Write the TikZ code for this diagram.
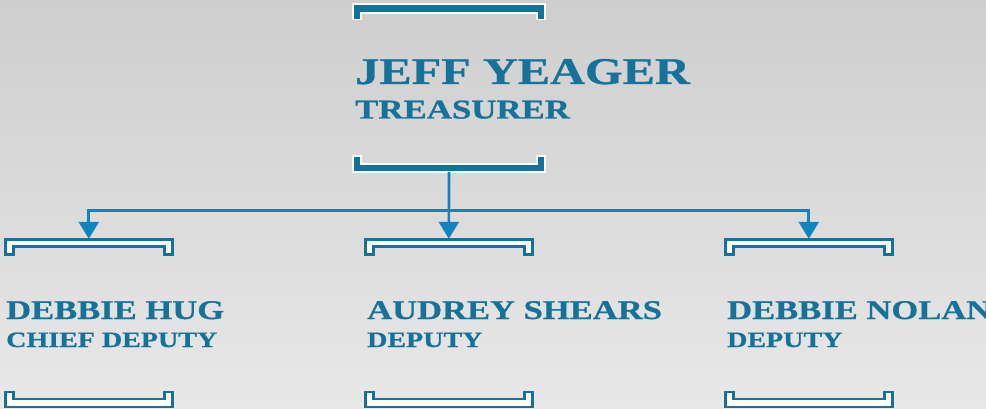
\documentclass[tikz,border=0pt]{standalone}
\usepackage{fontspec}
\newfontfamily\eng[FakeStretch=1.28,FakeBold=0.8]{Liberation Serif}
\usetikzlibrary{arrows.meta,calc}
\definecolor{bgtop}{RGB}{206,206,206}
\definecolor{bgbot}{RGB}{232,232,232}
\definecolor{ink}{RGB}{22,114,152}
\definecolor{brk}{RGB}{19,115,154}
\definecolor{conncol}{RGB}{16,132,192}
\tikzset{
  box/.style={draw=none,rectangle,inner sep=0pt},
  conn/.style={draw=conncol,line width=2.7pt},
  arr/.style={-{Triangle[width=20pt,length=17pt]}},
  topbrk/.style={fill=brk,draw=white,line width=1.8pt,line join=miter},
  kidbrk/.style={fill=white,draw=brk,line width=2.4pt,line join=miter},
  bigname/.style={anchor=base west,inner sep=0pt,text=ink,font=\eng\bfseries\fontsize{37.8}{40}\selectfont},
  toptitle/.style={anchor=base west,inner sep=0pt,text=ink,font=\eng\bfseries\fontsize{27.2}{30}\selectfont},
  kidname/.style={anchor=base west,inner sep=0pt,text=ink,font=\eng\bfseries\fontsize{27}{30}\selectfont},
  kidtitle/.style={anchor=base west,inner sep=0pt,text=ink,font=\eng\bfseries\fontsize{21.9}{24}\selectfont},
}
\begin{document}
\begin{tikzpicture}[x=1pt,y=-1pt]
\useasboundingbox (0,0) rectangle (986,409);
\shade[top color=bgtop,bottom color=bgbot] (0,0) rectangle (986,409);
% invisible frames of the boxes
\node[box,minimum width=192pt,minimum height=168pt] (top) at (449,88) {};
\node[box,minimum width=167pt,minimum height=168pt] (c1) at (88.8,323) {};
\node[box,minimum width=167pt,minimum height=168pt] (c2) at (448.8,323) {};
\node[box,minimum width=167pt,minimum height=168pt] (c3) at (808.8,323) {};
% top box brackets
\path[topbrk] (353,4) -- (545,4) -- (545,19.5) -- (537,19.5) -- (537,13) -- (361,13) -- (361,19.5) -- (353,19.5) -- cycle;
\path[topbrk] (353,156) -- (361,156) -- (361,164) -- (537,164) -- (537,156) -- (545,156) -- (545,172) -- (353,172) -- cycle;
% child brackets
\foreach \dx in {0,360,720}{
  \begin{scope}[xshift=\dx pt]
  \path[kidbrk] (5.3,239.3) -- (172.3,239.3) -- (172.3,254.3) -- (164.5,254.3) -- (164.5,246.5) -- (13.5,246.5) -- (13.5,254.3) -- (5.3,254.3) -- cycle;
  \path[kidbrk] (5.3,391.7) -- (13.5,391.7) -- (13.5,398.7) -- (164.5,398.7) -- (164.5,391.7) -- (172.3,391.7) -- (172.3,407) -- (5.3,407) -- cycle;
  \end{scope}
}
% texts
\node[bigname] (n0) at (355,84) {JEFF YEAGER};
\node[toptitle] (t0) at (355,118.5) {TREASURER};
\node[kidname] (n1) at (6,319) {DEBBIE HUG};
\node[kidtitle] (t1) at (6,347) {CHIEF DEPUTY};
\node[kidname] (n2) at (367,319) {AUDREY SHEARS};
\node[kidtitle] (t2) at (367,347) {DEPUTY};
\node[kidname] (n3) at (727,319) {DEBBIE NOLAN};
\node[kidtitle] (t3) at (727,347) {DEPUTY};
% connectors
\coordinate (bus) at (449,210.3);
\draw[conn,arr] (top.south) -- (c2.north);
\draw[conn,arr] (top.south) -- (bus) -| (c1.north);
\draw[conn,arr] (top.south) -- (bus) -| (c3.north);
\end{tikzpicture}
\end{document}
